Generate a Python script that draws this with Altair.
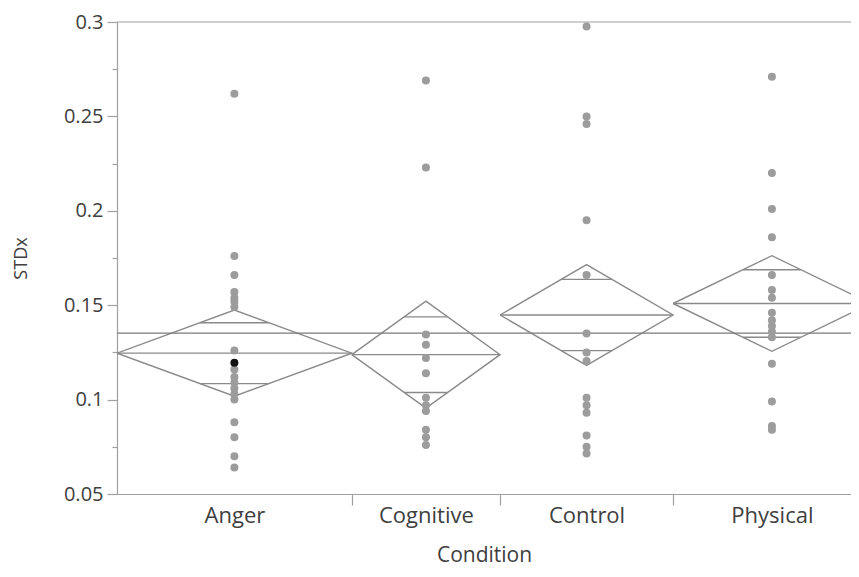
import math
import altair as alt
import pandas as pd

# ---- data ----
conditions = ["Anger", "Cognitive", "Control", "Physical"]
group_n = [19, 12, 14, 16]
group_means = [0.1246, 0.1238, 0.1448, 0.1509]
ci_half = [0.0228, 0.0283, 0.0267, 0.0253]
grand_mean = 0.1352

anger = [0.262, 0.176, 0.166, 0.157, 0.154, 0.152, 0.149, 0.126, 0.1195, 0.116,
         0.112, 0.109, 0.106, 0.103, 0.100, 0.088, 0.080, 0.070, 0.064]
cognitive = [0.269, 0.223, 0.1345, 0.129, 0.122, 0.114, 0.101, 0.097, 0.094,
             0.084, 0.080, 0.076]
control = [0.2976, 0.250, 0.246, 0.195, 0.166, 0.135, 0.125, 0.1205, 0.101,
           0.097, 0.093, 0.081, 0.075, 0.0715]
physical = [0.271, 0.220, 0.201, 0.186, 0.166, 0.158, 0.154, 0.146, 0.142,
            0.139, 0.136, 0.133, 0.119, 0.099, 0.086, 0.084]
highlighted = [("Anger", 0.1195)]

y_major = [0.05, 0.1, 0.15, 0.2, 0.25, 0.3]
y_minor = [0.075, 0.125, 0.175, 0.225, 0.275]
x_visible_max = 59.4   # the reference frame is cut off before the last group ends

# ---- geometry derived from the data ----
starts, acc = [], 0
for n in group_n:
    starts.append(acc)
    acc += n
total_n = acc
ends = [s + n for s, n in zip(starts, group_n)]
centers = [s + n / 2 for s, n in zip(starts, group_n)]
inner_bounds = ends[:-1]

values_by_group = [anger, cognitive, control, physical]
pts = []
for g, c, vals in zip(conditions, centers, values_by_group):
    for v in vals:
        pts.append({"cond": g, "x": c, "value": v,
                    "sel": "yes" if (g, v) in highlighted else "no"})
pts_df = pd.DataFrame(pts)
pts_df = pts_df.sort_values("sel")

dia = []
for g, s, e, c, m, h in zip(conditions, starts, ends, centers, group_means, ci_half):
    verts = [(s, m), (c, m + h), (e, m), (c, m - h), (s, m)]
    for i, (xx, yy) in enumerate(verts):
        dia.append({"cond": g, "o": i, "x": xx, "y": yy})
dia_df = pd.DataFrame(dia)

hl = []
r2 = math.sqrt(2)
for g, s, e, c, n, m, h in zip(conditions, starts, ends, centers, group_n, group_means, ci_half):
    hl.append({"x": s, "x2": e, "y": m})
    half = n / 2 * (1 - 1 / r2)
    hl.append({"x": c - half, "x2": c + half, "y": m + h / r2})
    hl.append({"x": c - half, "x2": c + half, "y": m - h / r2})
hl_df = pd.DataFrame(hl)

# ---- scales / axes ----
FONT = "Open Sans"
AX = "#a0a0a0"
TXT = "#404040"
LINE = "#8a8a8a"

xscale = alt.Scale(domain=[0, x_visible_max], nice=False, zero=False)
yscale = alt.Scale(domain=[y_major[0], y_major[-1]], nice=False, zero=False)

expr = "''"
for g, e in reversed(list(zip(conditions, ends))):
    expr = f"datum.value < {e} ? '{g}' : ({expr})"

x_label_axis = alt.Axis(values=centers, labelExpr=expr, ticks=False, grid=False,
                        domain=True, title="Condition", orient="bottom",
                        labelFontSize=22, titleFontSize=21, labelPadding=11,
                        titlePadding=18, labelFlush=False)
x_tick_axis = alt.Axis(values=inner_bounds, labels=False, ticks=True, tickSize=11,
                       domain=False, grid=False, title=None, orient="bottom")
y_major_axis = alt.Axis(values=y_major, format="~g", tickSize=10, grid=False,
                        title="STDx", orient="left", labelFontSize=20,
                        titleFontSize=18, labelPadding=4, titlePadding=33)
y_minor_axis = alt.Axis(values=y_minor, labels=False, tickSize=5, domain=False,
                        grid=False, title=None, orient="left")

points = alt.Chart(pts_df).mark_circle(size=64, opacity=1, clip=True).encode(
    x=alt.X("x:Q", scale=xscale, axis=x_label_axis),
    y=alt.Y("value:Q", scale=yscale, axis=y_major_axis),
    color=alt.Color("sel:N", scale=alt.Scale(domain=["no", "yes"],
                                             range=["#9c9c9c", "#111111"]), legend=None),
)

diamonds = alt.Chart(dia_df).mark_line(color=LINE, strokeWidth=1.4, clip=True).encode(
    x=alt.X("x:Q", scale=xscale, axis=x_tick_axis),
    y=alt.Y("y:Q", scale=yscale, axis=y_minor_axis),
    detail="cond:N",
    order="o:Q",
)

hlines = alt.Chart(hl_df).mark_rule(color=LINE, strokeWidth=1.4, clip=True).encode(
    x=alt.X("x:Q", scale=xscale, axis=None),
    x2="x2:Q",
    y=alt.Y("y:Q", scale=yscale, axis=None),
)

grand = alt.Chart(pd.DataFrame({"g": [grand_mean]})).mark_rule(
    color="#7a7a7a", strokeWidth=1.4).encode(
    y=alt.Y("g:Q", scale=yscale, axis=None),
)

top = alt.Chart(pd.DataFrame({"t": [y_major[-1]]})).mark_rule(
    color=AX, strokeWidth=1.2).encode(
    y=alt.Y("t:Q", scale=yscale, axis=None),
)

chart = alt.layer(diamonds, hlines, grand, top, points).resolve_axis(
    x="independent", y="independent"
).properties(
    width=734, height=472,
    padding={"left": 109, "top": 14, "right": 0, "bottom": 73},
    autosize=alt.AutoSizeParams(type="none"),
).configure_view(strokeWidth=0).configure_axis(
    domainColor=AX, tickColor=AX, labelColor=TXT, titleColor=TXT,
    labelFont=FONT, titleFont=FONT, titleFontWeight="normal",
    domainWidth=1.2, tickWidth=1.2,
)

chart.save("out.html", embed_options={"renderer": "svg", "actions": False})
